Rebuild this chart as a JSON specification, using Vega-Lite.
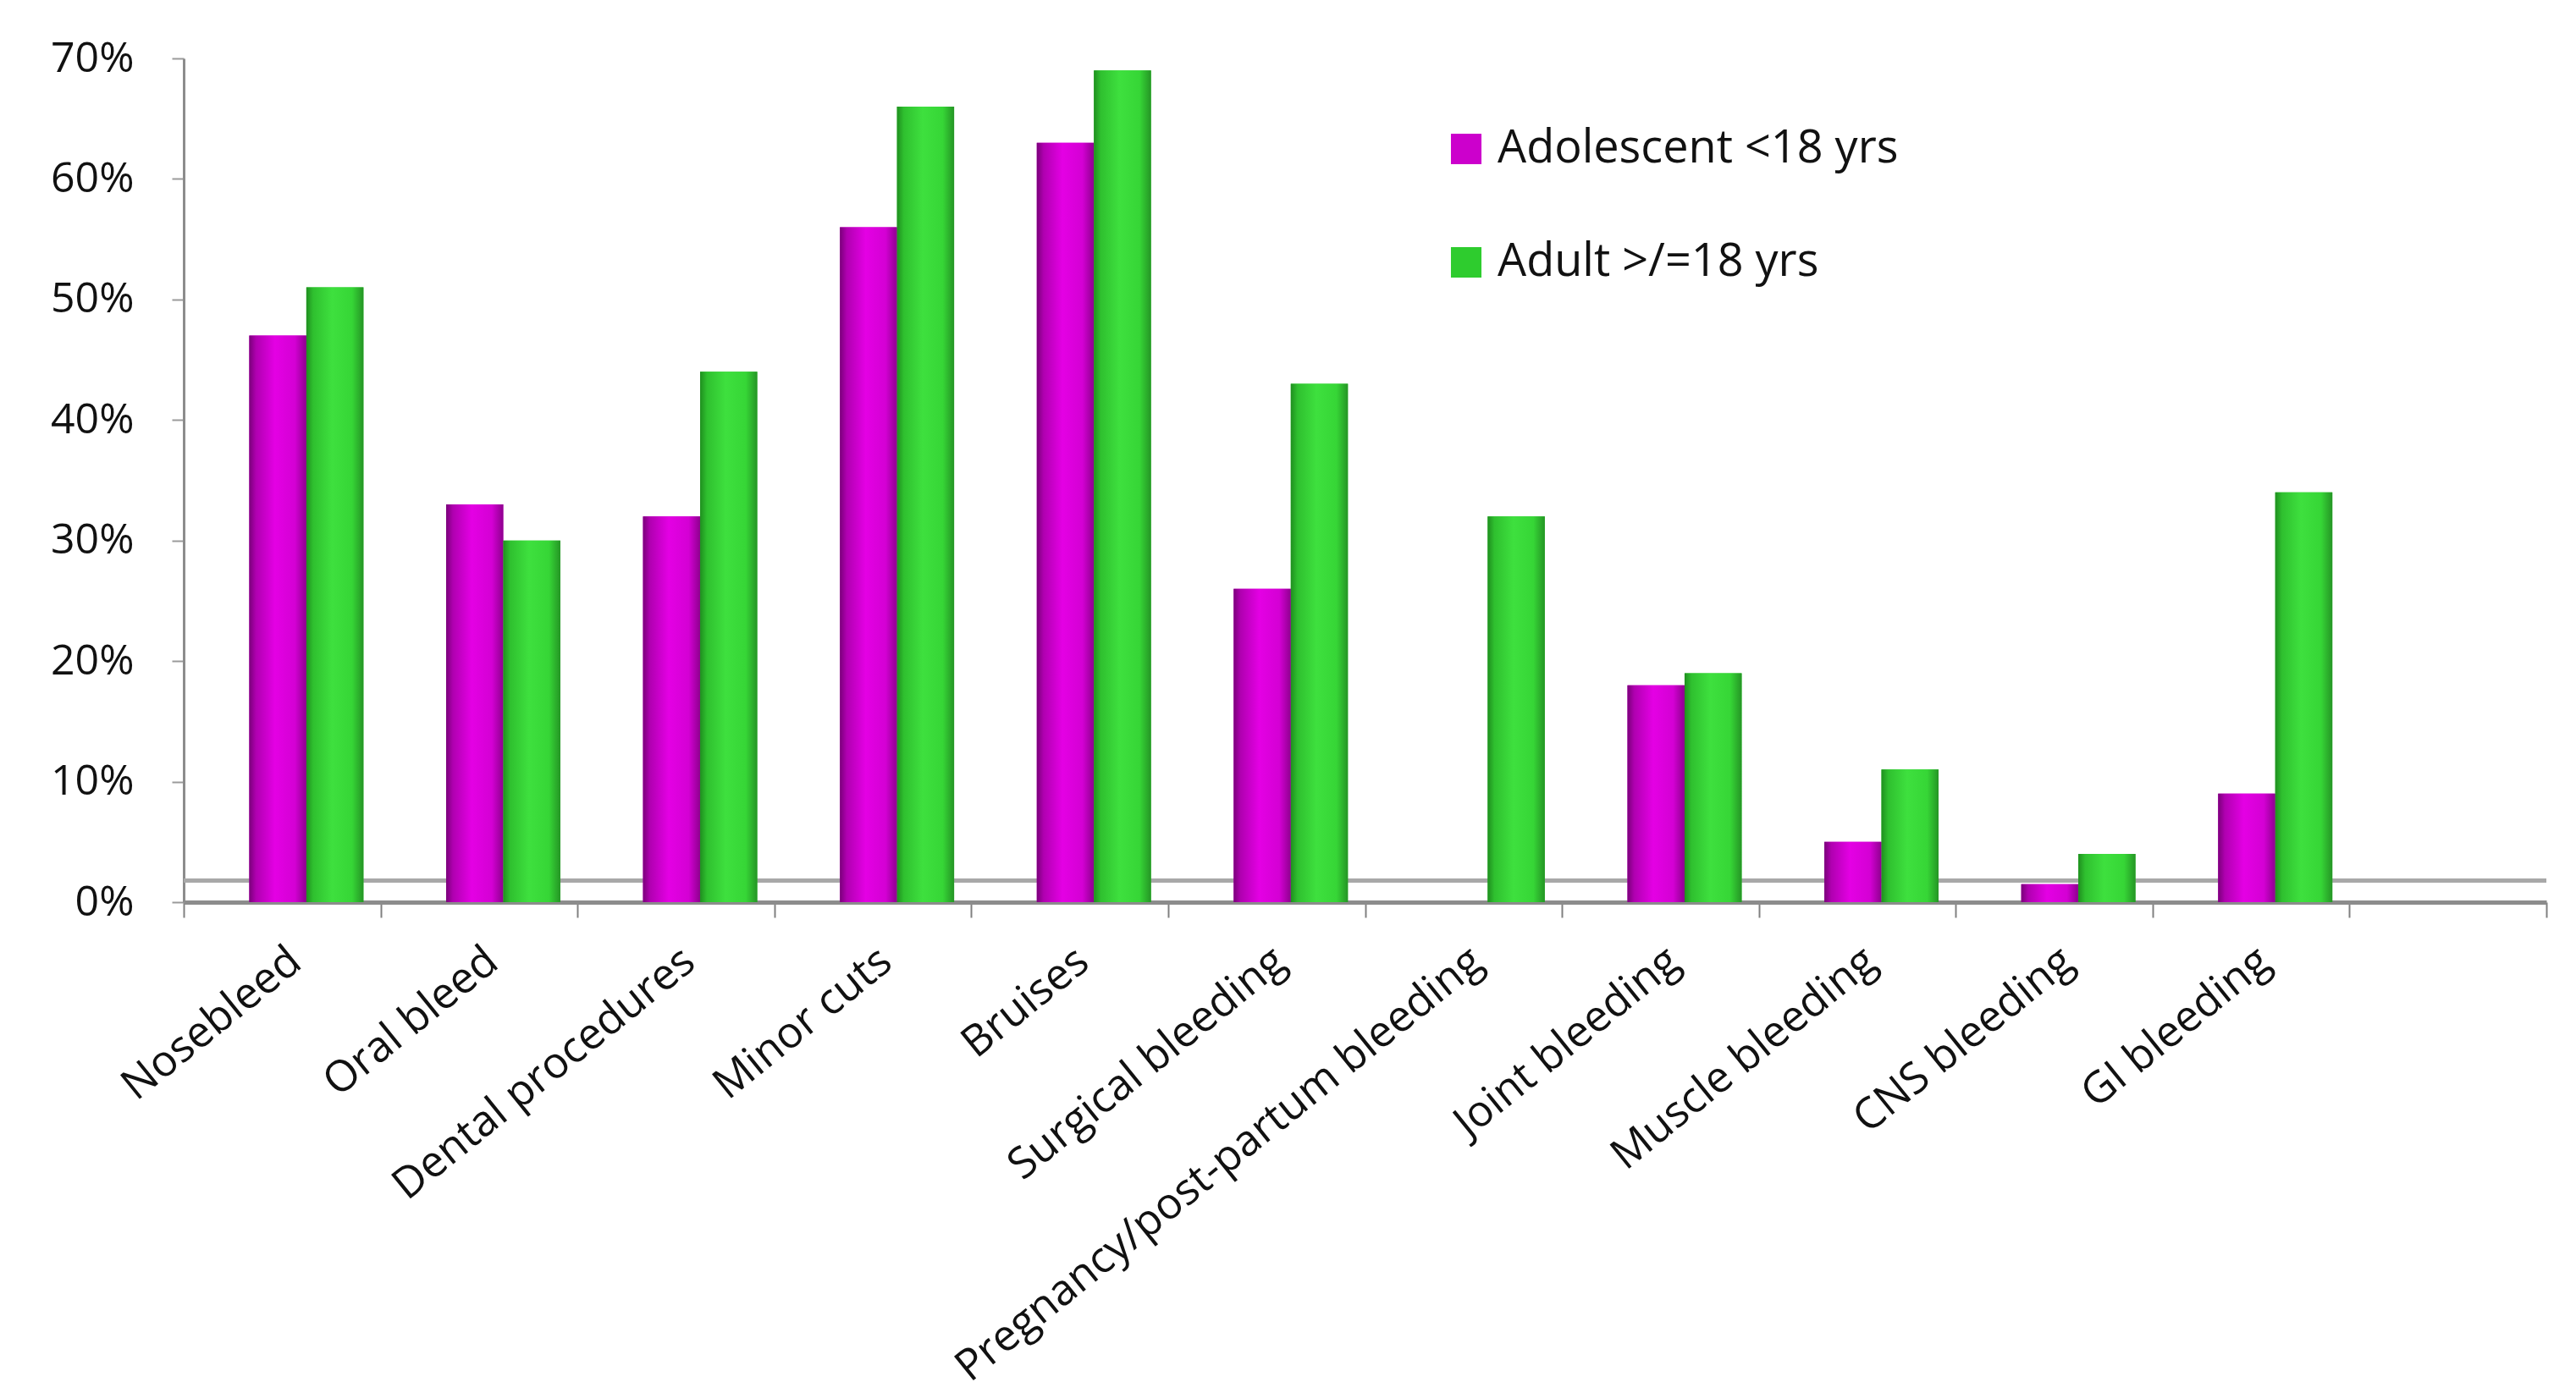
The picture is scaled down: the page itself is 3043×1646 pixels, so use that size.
{
  "$schema": "https://vega.github.io/schema/vega-lite/v6.json",
  "width": 2791,
  "height": 997,
  "autosize": "none",
  "padding": {"left": 217, "top": 69, "right": 35, "bottom": 580},
  "background": "white",
  "config": {"view": {"stroke": null}, "font": "Open Sans"},
  "data": {
    "values": [
      {"category": "Nosebleed", "group": "Adolescent <18 yrs", "value": 0.47},
      {"category": "Nosebleed", "group": "Adult >/=18 yrs", "value": 0.51},
      {"category": "Oral bleed", "group": "Adolescent <18 yrs", "value": 0.33},
      {"category": "Oral bleed", "group": "Adult >/=18 yrs", "value": 0.30},
      {"category": "Dental procedures", "group": "Adolescent <18 yrs", "value": 0.32},
      {"category": "Dental procedures", "group": "Adult >/=18 yrs", "value": 0.44},
      {"category": "Minor cuts", "group": "Adolescent <18 yrs", "value": 0.56},
      {"category": "Minor cuts", "group": "Adult >/=18 yrs", "value": 0.66},
      {"category": "Bruises", "group": "Adolescent <18 yrs", "value": 0.63},
      {"category": "Bruises", "group": "Adult >/=18 yrs", "value": 0.69},
      {"category": "Surgical bleeding", "group": "Adolescent <18 yrs", "value": 0.26},
      {"category": "Surgical bleeding", "group": "Adult >/=18 yrs", "value": 0.43},
      {"category": "Pregnancy/post-partum bleeding", "group": "Adolescent <18 yrs", "value": 0.0},
      {"category": "Pregnancy/post-partum bleeding", "group": "Adult >/=18 yrs", "value": 0.32},
      {"category": "Joint bleeding", "group": "Adolescent <18 yrs", "value": 0.18},
      {"category": "Joint bleeding", "group": "Adult >/=18 yrs", "value": 0.19},
      {"category": "Muscle bleeding", "group": "Adolescent <18 yrs", "value": 0.05},
      {"category": "Muscle bleeding", "group": "Adult >/=18 yrs", "value": 0.11},
      {"category": "CNS bleeding", "group": "Adolescent <18 yrs", "value": 0.015},
      {"category": "CNS bleeding", "group": "Adult >/=18 yrs", "value": 0.04},
      {"category": "GI bleeding", "group": "Adolescent <18 yrs", "value": 0.09},
      {"category": "GI bleeding", "group": "Adult >/=18 yrs", "value": 0.34}
    ]
  },
  "encoding": {
    "x": {
      "field": "category",
      "type": "nominal",
      "sort": null,
      "scale": {
        "domain": ["Nosebleed", "Oral bleed", "Dental procedures", "Minor cuts", "Bruises", "Surgical bleeding", "Pregnancy/post-partum bleeding", "Joint bleeding", "Muscle bleeding", "CNS bleeding", "GI bleeding", " "],
        "paddingInner": 0,
        "paddingOuter": 0
      },
      "axis": {
        "title": null,
        "labelAngle": -39,
        "labelAlign": "right",
        "labelBaseline": "top",
        "labelFontSize": 51,
        "labelColor": "#111111",
        "labelPadding": 26,
        "labelOverlap": false,
        "labelLimit": 1200,
        "tickBand": "extent",
        "tickSize": 18,
        "tickWidth": 2,
        "tickColor": "#808080",
        "domainColor": "#8c8c8c",
        "domainWidth": 5
      }
    },
    "y": {
      "field": "value",
      "type": "quantitative",
      "scale": {"domain": [0, 0.7], "nice": false},
      "axis": {
        "title": null,
        "format": ".0%",
        "values": [0, 0.1, 0.2, 0.3, 0.4, 0.5, 0.6, 0.7],
        "grid": false,
        "labelFontSize": 50,
        "labelColor": "#111111",
        "labelPadding": 45,
        "tickSize": 14,
        "tickWidth": 2,
        "tickColor": "#9a9a9a",
        "domainColor": "#8c8c8c",
        "domainWidth": 3
      }
    }
  },
  "layer": [
    {
      "mark": {"type": "rule", "color": "#a8a8a8", "strokeWidth": 4},
      "encoding": {"y": {"datum": 0.018}, "x": null}
    },
    {
      "mark": {"type": "bar"},
      "encoding": {
        "xOffset": {"field": "group", "type": "nominal", "scale": {"domain": ["_", "Adolescent <18 yrs", "Adult >/=18 yrs"], "paddingInner": 0, "paddingOuter": 0.224, "align": 0.33}},
        "color": {
          "field": "group",
          "type": "nominal",
          "scale": {"domain": ["Adolescent <18 yrs", "Adult >/=18 yrs"], "range": ["#cc00cc", "#2ecc2e"]},
          "legend": {
            "title": null,
            "orient": "none",
            "legendX": 1488,
            "legendY": 80,
            "direction": "vertical",
            "symbolType": "square",
            "symbolSize": 1300,
            "symbolStrokeWidth": 0,
            "labelFontSize": 54,
            "labelColor": "#111111",
            "labelOffset": 10,
            "rowPadding": 80,
            "padding": 0,
            "labelLimit": 1000
          }
        }
      }
    },
    {
      "transform": [{"filter": "datum.group == 'Adolescent <18 yrs'"}],
      "mark": {
        "type": "bar",
        "color": {"gradient": "linear", "x1": 0, "x2": 1, "y1": 0, "y2": 0, "stops": [
          {"offset": 0, "color": "#7a007a"},
          {"offset": 0.12, "color": "#b000b0"},
          {"offset": 0.45, "color": "#e400e4"},
          {"offset": 0.8, "color": "#d400d4"},
          {"offset": 1, "color": "#8e008e"}
        ]}
      },
      "encoding": {"xOffset": {"field": "group", "type": "nominal"}}
    },
    {
      "transform": [{"filter": "datum.group == 'Adult >/=18 yrs'"}],
      "mark": {
        "type": "bar",
        "color": {"gradient": "linear", "x1": 0, "x2": 1, "y1": 0, "y2": 0, "stops": [
          {"offset": 0, "color": "#1f8f1f"},
          {"offset": 0.12, "color": "#2fc02f"},
          {"offset": 0.45, "color": "#3ee03e"},
          {"offset": 0.8, "color": "#36d636"},
          {"offset": 1, "color": "#259525"}
        ]}
      },
      "encoding": {"xOffset": {"field": "group", "type": "nominal"}}
    }
  ]
}
